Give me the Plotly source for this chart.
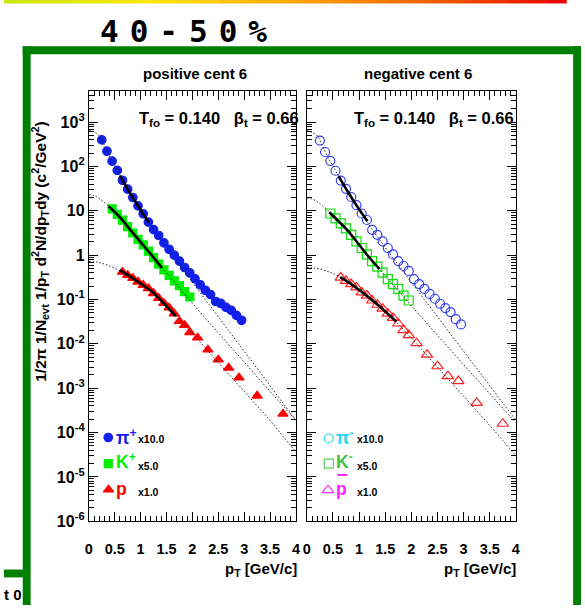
import plotly.graph_objects as go

W, H = 585, 614
SANS = "Liberation Sans, Arial, sans-serif"

# ---------------------------------------------------------------------------
# Identified-particle spectra, 40-50% centrality (legend scale factors applied)
# ---------------------------------------------------------------------------
pt_pi = [0.25, 0.35, 0.45, 0.55, 0.65, 0.75, 0.85, 0.95, 1.05, 1.15, 1.25, 1.35, 1.45, 1.55,
         1.65, 1.75, 1.85, 1.95, 2.05, 2.15, 2.25, 2.35, 2.45, 2.55, 2.65, 2.75, 2.85, 2.95]
pt_k = [0.45, 0.55, 0.65, 0.75, 0.85, 0.95, 1.05, 1.15, 1.25, 1.35, 1.45, 1.55, 1.65, 1.75,
        1.85, 1.95]
pt_p = [0.65, 0.75, 0.85, 0.95, 1.05, 1.15, 1.25, 1.35, 1.45, 1.55, 1.65, 1.75, 1.85, 1.95,
        2.1, 2.3, 2.5, 2.7, 2.9, 3.25, 3.75]

pi_plus = [398, 221, 132, 81.5, 48.9, 30.8, 20.0, 12.9, 8.58, 5.55, 3.78, 2.78, 1.90, 1.36,
           1.00, 0.736, 0.527, 0.398, 0.293, 0.215, 0.162, 0.129, 0.0903, 0.0815, 0.0664,
           0.057, 0.044, 0.034]
k_plus = [11.1, 8.36, 6.15, 4.41, 3.16, 2.27, 1.71, 1.23, 0.88, 0.631, 0.464, 0.35, 0.264,
          0.205, 0.151, 0.114]
proton = [0.419, 0.354, 0.303, 0.251, 0.212, 0.178, 0.138, 0.107, 0.0828, 0.0655, 0.0481,
          0.0324, 0.0264, 0.0182, 0.0138, 0.00736, 0.0044, 0.00288, 0.00173, 0.000675,
          0.000264]

pi_minus = [384, 212, 134, 80.2, 48.1, 31.3, 20.5, 13.4, 8.71, 6.21, 3.72, 2.88, 2.05, 1.45,
            1.04, 0.736, 0.570, 0.441, 0.288, 0.223, 0.173, 0.134, 0.104, 0.0802, 0.0641,
            0.0522, 0.036, 0.0274]
k_minus = [8.71, 6.75, 5.22, 4.04, 2.88, 2.05, 1.45, 1.04, 0.736, 0.55, 0.404, 0.288, 0.223,
           0.173, 0.123, 0.095]
pbar = [0.313, 0.264, 0.223, 0.187, 0.145, 0.123, 0.095, 0.0762, 0.0621, 0.0481, 0.0384,
        0.0288, 0.0205, 0.0158, 0.0104, 0.0057, 0.00313, 0.00187, 0.00145, 0.000465, 0.000158]

scale_labels = ["x10.0", "x5.0", "x1.0"]

# ---------------------------------------------------------------------------
# Blast-wave curves (T_fo = 0.140, beta_t = 0.66): full range, drawn dotted
# ---------------------------------------------------------------------------
pt_bw = [0, 0.1, 0.2, 0.3, 0.4, 0.5, 0.75, 1.0, 1.25, 1.5, 1.75, 2.0, 2.25, 2.5, 2.75, 3.0,
         3.25, 3.5, 3.75, 4.0]
bw_pi_plus = [660, 600, 500, 300, 170, 105, 31, 10.5, 3.8, 1.5, 0.6, 0.245, 0.1, 0.041,
              0.0167, 0.0068, 0.0028, 0.00114, 0.00046, 0.00019]
bw_k_plus = [23, 22, 19, 15.5, 12.2, 9.5, 4.5, 2.0, 0.88, 0.40, 0.18, 0.082, 0.038, 0.0178,
             0.0083, 0.0039, 0.0018, 0.00085, 0.0004, 0.00019]
bw_proton = [0.72, 0.71, 0.68, 0.63, 0.57, 0.51, 0.355, 0.23, 0.138, 0.075, 0.036, 0.0172,
             0.0081, 0.0038, 0.0018, 0.00085, 0.0004, 0.000188, 0.000082, 0.000036]
bw_pi_minus = [640, 590, 490, 290, 165, 102, 31, 10.6, 3.85, 1.5, 0.6, 0.245, 0.1, 0.041,
               0.0167, 0.0068, 0.0028, 0.00114, 0.00046, 0.00019]
bw_k_minus = [19.5, 18.5, 16, 13, 10.3, 8.0, 3.9, 1.72, 0.76, 0.345, 0.158, 0.072, 0.0335,
              0.0156, 0.0073, 0.0034, 0.0016, 0.00075, 0.00035, 0.000166]
bw_pbar = [0.53, 0.52, 0.5, 0.47, 0.43, 0.39, 0.27, 0.17, 0.1, 0.055, 0.028, 0.0135, 0.0064,
           0.003, 0.0014, 0.00066, 0.00031, 0.000145, 0.000066, 0.00003]

# fitted ranges, drawn solid
fit_pt_pi_plus = [0.6, 0.8, 1.0, 1.16]
fit_pi_plus = [62, 24.8, 10.5, 5.4]
fit_pt_k_plus = [0.38, 0.6, 0.8, 1.0, 1.2, 1.41]
fit_k_plus = [12.7, 7.2, 3.73, 1.97, 1.04, 0.52]
fit_pt_proton = [0.6, 0.8, 1.0, 1.2, 1.4, 1.68]
fit_proton = [0.46, 0.328, 0.23, 0.157, 0.094, 0.042]
fit_pt_pi_minus = [0.61, 0.8, 1.0, 1.16]
fit_pi_minus = [60, 25.3, 10.8, 5.8]
fit_pt_k_minus = [0.43, 0.6, 0.8, 1.0, 1.2, 1.39]
fit_k_minus = [9.3, 5.94, 3.41, 1.72, 0.875, 0.49]
fit_pt_pbar = [0.64, 0.8, 1.0, 1.2, 1.4, 1.71]
fit_pbar = [0.32, 0.243, 0.165, 0.108, 0.069, 0.032]

# axis ticks
x_ticks = [0, 0.5, 1, 1.5, 2, 2.5, 3, 3.5, 4]
x_ticktext = ["0", "0.5", "1", "1.5", "2", "2.5", "3", "3.5", "4"]
y_ticks = [1e-6, 1e-5, 1e-4, 1e-3, 1e-2, 1e-1, 1, 10, 1e2, 1e3]
y_ticktext = ["10<sup>-6</sup>", "10<sup>-5</sup>", "10<sup>-4</sup>", "10<sup>-3</sup>",
              "10<sup>-2</sup>", "10<sup>-1</sup>", "1", "10", "10<sup>2</sup>", "10<sup>3</sup>"]


def fx(p):
    return p / W


def fy(p):
    return 1 - p / H


# frame geometry in pixels
LX0, LX1 = 86, 296
RX0, RX1 = 307, 519
YT, YB = 92, 529

fig = go.Figure()

panels = [
    ("x", "y", [
        (pt_pi, pi_plus, "circle", 8.5, "#1020e8"),
        (pt_k, k_plus, "square", 8, "#00ee00"),
        (pt_p, proton, "triangle-up", 9, "#ff0000"),
    ], [bw_pi_plus, bw_k_plus, bw_proton],
        [(fit_pt_pi_plus, fit_pi_plus), (fit_pt_k_plus, fit_k_plus), (fit_pt_proton, fit_proton)]),
    ("x2", "y2", [
        (pt_pi, pi_minus, "circle-open", 9, "#3040f0"),
        (pt_k, k_minus, "square-open", 9, "#10dd10"),
        (pt_p, pbar, "triangle-up-open", 10, "#ff2020"),
    ], [bw_pi_minus, bw_k_minus, bw_pbar],
        [(fit_pt_pi_minus, fit_pi_minus), (fit_pt_k_minus, fit_k_minus), (fit_pt_pbar, fit_pbar)]),
]

for xa, ya, series, curves, fits in panels:
    for xs, ys, sym, size, col in series:
        fig.add_trace(go.Scatter(x=xs, y=ys, mode="markers", xaxis=xa, yaxis=ya,
                                 marker=dict(symbol=sym, size=size, color=col,
                                             line=dict(width=1.2, color=col)),
                                 showlegend=False, hoverinfo="skip"))
    for ys in curves:
        fig.add_trace(go.Scatter(x=pt_bw, y=ys, mode="lines", xaxis=xa, yaxis=ya,
                                 line=dict(color="#222222", width=1, dash="1.5px,2px",
                                           shape="spline"),
                                 showlegend=False, hoverinfo="skip"))
    for xs, ys in fits:
        fig.add_trace(go.Scatter(x=xs, y=ys, mode="lines", xaxis=xa, yaxis=ya,
                                 line=dict(color="black", width=2.6, shape="spline"),
                                 showlegend=False, hoverinfo="skip"))

# legend markers, placed on a pixel-space overlay axis
legend_marks = [
    (105.7, 444, "circle", 8.5, "#1020e8"),
    (105.7, 470.5, "square", 8, "#00ee00"),
    (106, 497, "triangle-up", 9, "#ff0000"),
    (329.3, 445, "circle-open", 9, "#20d8f0"),
    (329.3, 470.5, "square-open", 9, "#60d060"),
    (328.5, 497.5, "triangle-up-open", 10, "#ff30ff"),
]
for x, y, sym, size, col in legend_marks:
    fig.add_trace(go.Scatter(x=[x], y=[y], mode="markers", xaxis="x3", yaxis="y3",
                             marker=dict(symbol=sym, size=size, color=col,
                                         line=dict(width=1.2, color=col)),
                             showlegend=False, hoverinfo="skip"))

tickfont_y = dict(family=SANS, size=16, color="black", weight="bold")
tickfont_x = dict(family=SANS, size=14.5, color="black", weight="bold")
x_common = dict(range=[0, 4], tickmode="array", tickvals=x_ticks, ticktext=x_ticktext,
                ticks="inside", ticklen=9, tickwidth=1, tickcolor="black",
                showline=True, linecolor="black", linewidth=1, mirror="allticks",
                showgrid=False, zeroline=False, tickfont=tickfont_x, ticklabelstandoff=14,
                minor=dict(tickmode="array",
                           tickvals=[i / 10 for i in range(41) if i % 5],
                           ticks="inside", ticklen=5, tickwidth=1, tickcolor="black",
                           showgrid=False))
y_common = dict(type="log", range=[-6, 3.71], tickmode="array", tickvals=y_ticks,
                ticktext=y_ticktext, ticks="inside", ticklen=9, tickwidth=1,
                tickcolor="black", showline=True, linecolor="black", linewidth=1,
                mirror="allticks", showgrid=False, zeroline=False, tickfont=tickfont_y,
                domain=[fy(YB), fy(YT)],
                minor=dict(tickmode="array",
                           tickvals=[k * 10.0 ** e for e in range(-6, 4) for k in range(2, 10)],
                           ticks="inside", ticklen=5, tickwidth=1, tickcolor="black",
                           showgrid=False))

fig.update_layout(
    width=W, height=H, margin=dict(l=0, r=0, t=0, b=0),
    paper_bgcolor="white", plot_bgcolor="rgba(0,0,0,0)",
    xaxis=dict(x_common, domain=[fx(LX0), fx(LX1)], anchor="y"),
    yaxis=dict(y_common, anchor="x"),
    xaxis2=dict(x_common, domain=[fx(RX0), fx(RX1)], anchor="y2"),
    yaxis2=dict(y_common, anchor="x2", showticklabels=False),
    xaxis3=dict(domain=[0, 1], range=[0, W], visible=False, anchor="y3"),
    yaxis3=dict(domain=[0, 1], range=[H, 0], visible=False, anchor="x3"),
)

shapes = []


def band(x0, x1, y0, y1, color):
    shapes.append(dict(type="rect", xref="paper", yref="paper", x0=fx(x0), x1=fx(x1),
                       y0=fy(y1), y1=fy(y0), line=dict(width=0), fillcolor=color,
                       layer="below"))


# thin colour bar across the top edge
n_seg = 60
stops = [(0.0, (200, 230, 0)), (0.25, (250, 232, 0)), (0.5, (250, 170, 0)),
         (0.75, (245, 100, 0)), (1.0, (235, 0, 0))]


def ramp(t):
    for (t0, c0), (t1, c1) in zip(stops[:-1], stops[1:]):
        if t0 <= t <= t1:
            u = (t - t0) / (t1 - t0)
            return "rgb(%d,%d,%d)" % tuple(round(a + (b - a) * u) for a, b in zip(c0, c1))
    return "rgb(235,0,0)"


for i in range(n_seg):
    band(570 * i / n_seg, 570 * (i + 1) / n_seg + 0.6, 0, 3.5, ramp((i + 0.5) / n_seg))

GREEN = "#008000"
# slide frame (kept inside the page)
band(19, 27, 47, H, GREEN)
band(19, W, 47, 55, GREEN)
band(577, W, 47, H, GREEN)
band(0, 20, 578, 586, GREEN)
fig.update_layout(shapes=shapes)


def note(text, x, y, size, color="black", family=SANS, xanchor="center",
         yanchor="middle", angle=0):
    fig.add_annotation(text=text, x=fx(x), y=fy(y), xref="paper", yref="paper",
                       showarrow=False, xanchor=xanchor, yanchor=yanchor,
                       textangle=angle, font=dict(family=family, size=size, color=color))


NB = "\u00a0"
note('<b><span style="letter-spacing:11px">40-50%</span></b>', 95, 31.5, 31,
     family="DejaVu Sans Mono, Liberation Mono, monospace", xanchor="left")
note("<b>positive cent 6</b>", 193.5, 75, 15)
note("<b>negative cent 6</b>", 420, 75, 15)
tfo = "<b>T<sub>fo</sub> = 0.140" + NB * 3 + "β<sub>t</sub> = 0.66</b>"
note(tfo, 135, 121, 16.5, xanchor="left")
note(tfo, 353, 121, 16.5, xanchor="left")
note("<b>1/2π 1/N<sub>evt</sub> 1/p<sub>T</sub> d<sup>2</sup>N/dp<sub>T</sub>dy "
     "(c<sup>2</sup>/GeV<sup>2</sup>)</b>", 37, 255, 15.5, angle=-90)
note("<b>p<sub>T</sub> [GeV/c]</b>", 299, 578, 15, xanchor="right")
note("<b>p<sub>T</sub> [GeV/c]</b>", 521, 578, 15, xanchor="right")

# legend labels
note("<b>π<sup>+</sup></b>", 112, 443, 17.5, color="#1020e8", xanchor="left")
note("<b>K<sup>+</sup></b>", 112, 468, 17.5, color="#00ee00", xanchor="left")
note("<b>p</b>", 112, 496, 17.5, color="#ff0000", xanchor="left")
note("<b>π<sup>-</sup></b>", 335, 443, 17.5, color="#20d8f0", xanchor="left")
note("<b>K<sup>-</sup></b>", 335, 468, 17.5, color="#40c040", xanchor="left")
note("<b>p</b>", 335, 496, 17.5, color="#ff20ff", xanchor="left")
fig.add_shape(type="line", xref="paper", yref="paper", x0=fx(338), x1=fx(348),
              y0=fy(482), y1=fy(482), line=dict(color="#ff20ff", width=2))
for lx in (134, 356):
    for lab, ly in zip(scale_labels, (445.5, 472.5, 499.5)):
        note("<b>" + lab + "</b>", lx, ly, 10.5, xanchor="left")

note("<b>t 0</b>", 20, 603, 15, xanchor="right")

fig.write_html("out.html")
